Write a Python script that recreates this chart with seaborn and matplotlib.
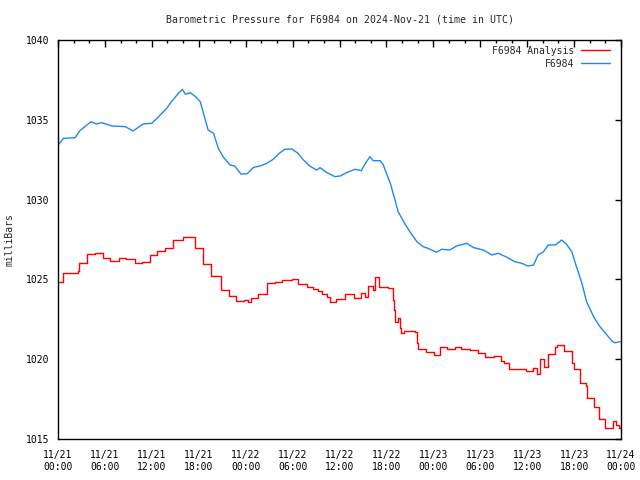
import matplotlib
matplotlib.use("Agg")
import matplotlib.pyplot as plt
import numpy as np
import pandas as pd
import seaborn as sns
from matplotlib.ticker import MultipleLocator, FixedLocator

# ---------------- data (hours since 2024-11-21 00:00 UTC) ----------------
analysis_hours = [
    0, 0.7, 2.5, 2.7, 3.7, 4.7, 5.7, 6.6, 7.8, 8.7,
    9.8, 10.7, 11.8, 12.7, 13.7, 14.7, 16.0, 17.5, 18.6, 19.6,
    20.8, 21.9, 22.8, 23.8, 24.3, 24.7, 25.6, 26.7, 27.7, 28.7,
    29.9, 30.7, 31.8, 32.6, 33.2, 33.7, 34.4, 34.8, 35.6, 36.7,
    37.8, 38.7, 39.3, 39.7, 40.3, 40.6, 41.1, 42.2, 42.8, 43.0,
    43.1, 43.5, 43.7, 43.9, 44.3, 45.7, 45.9, 46.1, 47.1, 48.1,
    48.8, 49.7, 50.8, 51.6, 52.7, 53.7, 54.6, 55.7, 56.6, 57.0,
    57.7, 58.7, 59.8, 60.8, 61.3, 61.7, 62.1, 62.7, 63.6, 63.8,
    64.7, 65.7, 66.0, 66.8, 67.5, 67.6, 68.5, 69.2, 69.9, 70.6,
    71.0, 71.4, 71.7, 72.0,
]
analysis_mb = [
    1024.86, 1025.37, 1025.5, 1026.0, 1026.57, 1026.67, 1026.32, 1026.15, 1026.32, 1026.26,
    1026.0, 1026.1, 1026.5, 1026.76, 1026.95, 1027.47, 1027.68, 1026.95, 1025.95, 1025.23,
    1024.34, 1023.96, 1023.67, 1023.73, 1023.57, 1023.82, 1024.07, 1024.76, 1024.86, 1024.96,
    1025.0, 1024.71, 1024.5, 1024.4, 1024.27, 1024.09, 1023.88, 1023.57, 1023.77, 1024.07,
    1023.86, 1024.13, 1023.88, 1024.59, 1024.34, 1025.17, 1024.54, 1024.44, 1023.71, 1023.08,
    1022.35, 1022.56, 1021.93, 1021.62, 1021.77, 1021.72, 1020.99, 1020.64, 1020.47, 1020.26,
    1020.74, 1020.62, 1020.78, 1020.62, 1020.58, 1020.37, 1020.12, 1020.2, 1019.89, 1019.74,
    1019.39, 1019.37, 1019.28, 1019.43, 1019.07, 1019.99, 1019.53, 1020.33, 1020.74, 1020.89,
    1020.53, 1019.74, 1019.37, 1018.49, 1018.32, 1017.59, 1016.99, 1016.23, 1015.67, 1015.7,
    1016.14, 1015.9, 1015.67, 1015.8,
]

station_hours = [
    0, 0.7, 2.2, 2.8, 3.45, 4.2, 4.9, 5.6, 6.9, 8.6,
    9.6, 10.9, 12.0, 12.8, 13.9, 14.5, 15.4, 15.9, 16.3, 16.9,
    17.5, 18.2, 18.6, 19.2, 19.9, 20.5, 21.1, 22.0, 22.6, 23.4,
    24.2, 25.0, 25.8, 26.7, 27.5, 28.2, 29.0, 29.9, 30.7, 31.4,
    32.2, 33.1, 33.5, 34.4, 35.4, 36.1, 36.9, 38.0, 38.8, 39.3,
    39.9, 40.3, 41.2, 41.6, 42.0, 42.5, 43.1, 43.5, 44.2, 45.0,
    45.9, 46.7, 47.3, 48.4, 49.1, 50.1, 51.0, 52.3, 53.1, 54.4,
    55.5, 56.3, 57.4, 58.4, 59.3, 60.1, 60.8, 61.4, 62.1, 62.7,
    63.6, 64.0, 64.4, 65.0, 65.7, 66.3, 67.0, 67.6, 68.5, 69.3,
    70.2, 70.8, 71.2, 71.9,
]
station_mb = [
    1033.42, 1033.84, 1033.88, 1034.32, 1034.57, 1034.88, 1034.74, 1034.82, 1034.61, 1034.57,
    1034.3, 1034.74, 1034.78, 1035.16, 1035.72, 1036.13, 1036.66, 1036.91, 1036.6, 1036.7,
    1036.49, 1036.13, 1035.41, 1034.36, 1034.15, 1033.21, 1032.69, 1032.17, 1032.1, 1031.6,
    1031.62, 1032.02, 1032.1, 1032.27, 1032.52, 1032.86, 1033.15, 1033.17, 1032.9, 1032.48,
    1032.1, 1031.85, 1032.0, 1031.69, 1031.44, 1031.48, 1031.69, 1031.9, 1031.81, 1032.27,
    1032.69, 1032.44, 1032.44, 1032.17, 1031.65, 1031.02, 1029.97, 1029.24, 1028.62, 1027.99,
    1027.36, 1027.05, 1026.95, 1026.7, 1026.89, 1026.84, 1027.1, 1027.26, 1027.0, 1026.84,
    1026.53, 1026.64, 1026.39, 1026.11, 1026.01, 1025.84, 1025.9, 1026.53, 1026.74, 1027.16,
    1027.16, 1027.3, 1027.47, 1027.22, 1026.74, 1025.8, 1024.76, 1023.6, 1022.66, 1022.04,
    1021.52, 1021.16, 1021.03, 1021.1,
]

x_tick_hours = [0, 6, 12, 18, 24, 30, 36, 42, 48, 54, 60, 66, 72]
x_tick_labels = ["11/21\n00:00", "11/21\n06:00", "11/21\n12:00", "11/21\n18:00",
                 "11/22\n00:00", "11/22\n06:00", "11/22\n12:00", "11/22\n18:00",
                 "11/23\n00:00", "11/23\n06:00", "11/23\n12:00", "11/23\n18:00",
                 "11/24\n00:00"]
y_ticks = [1015, 1020, 1025, 1030, 1035, 1040]

title = "Barometric Pressure for F6984 on 2024-Nov-21 (time in UTC)"
y_label = "milliBars"

# ---------------- plot ----------------
sns.set_style("white")
plt.rcParams["font.family"] = ["DejaVu Sans Mono"]

df_a = pd.DataFrame({"hour": analysis_hours, "mb": analysis_mb})
df_s = pd.DataFrame({"hour": station_hours, "mb": station_mb})

fig = plt.figure(figsize=(6.4, 4.8), dpi=100)
ax = fig.add_axes([58 / 640, 41 / 480, 563 / 640, 399 / 480])

sns.lineplot(data=df_a, x="hour", y="mb", color="#ff0000", lw=1.0,
             drawstyle="steps-post", estimator=None, label="F6984 Analysis", ax=ax)
sns.lineplot(data=df_s, x="hour", y="mb", color="#1e88f0", lw=1.0,
             estimator=None, label="F6984", ax=ax)

ax.set_xlim(0, 72)
ax.set_ylim(1015, 1040)
ax.xaxis.set_major_locator(FixedLocator(x_tick_hours))
ax.set_xticklabels(x_tick_labels)
ax.xaxis.set_minor_locator(MultipleLocator(2))
ax.set_yticks(y_ticks)
ax.set_yticklabels([str(v) for v in y_ticks])
ax.tick_params(axis="both", which="both", direction="in", top=True, right=True,
               labelsize=7, colors="black", width=1)
ax.tick_params(axis="x", which="major", length=5, pad=8)
ax.tick_params(axis="x", which="minor", length=2.5)
ax.tick_params(axis="y", which="major", length=4, pad=6)
for s in ax.spines.values():
    s.set_color("black")
    s.set_linewidth(1.0)
ax.set_xlabel("")
ax.set_ylabel("")

fig.text(339.5 / 640, 1 - 19 / 480, title, ha="center", va="center", fontsize=7.1)
fig.text(10 / 640, 1 - 240 / 480, y_label, rotation=90, ha="center", va="center", fontsize=7)

leg = ax.legend(loc="upper right", bbox_to_anchor=(1 - 5 / 563, 1), frameon=False,
                markerfirst=False, fontsize=7, handlelength=3.0, handletextpad=0.7,
                labelspacing=0.3, borderaxespad=0.2)

fig.savefig("out.png", dpi=100)
